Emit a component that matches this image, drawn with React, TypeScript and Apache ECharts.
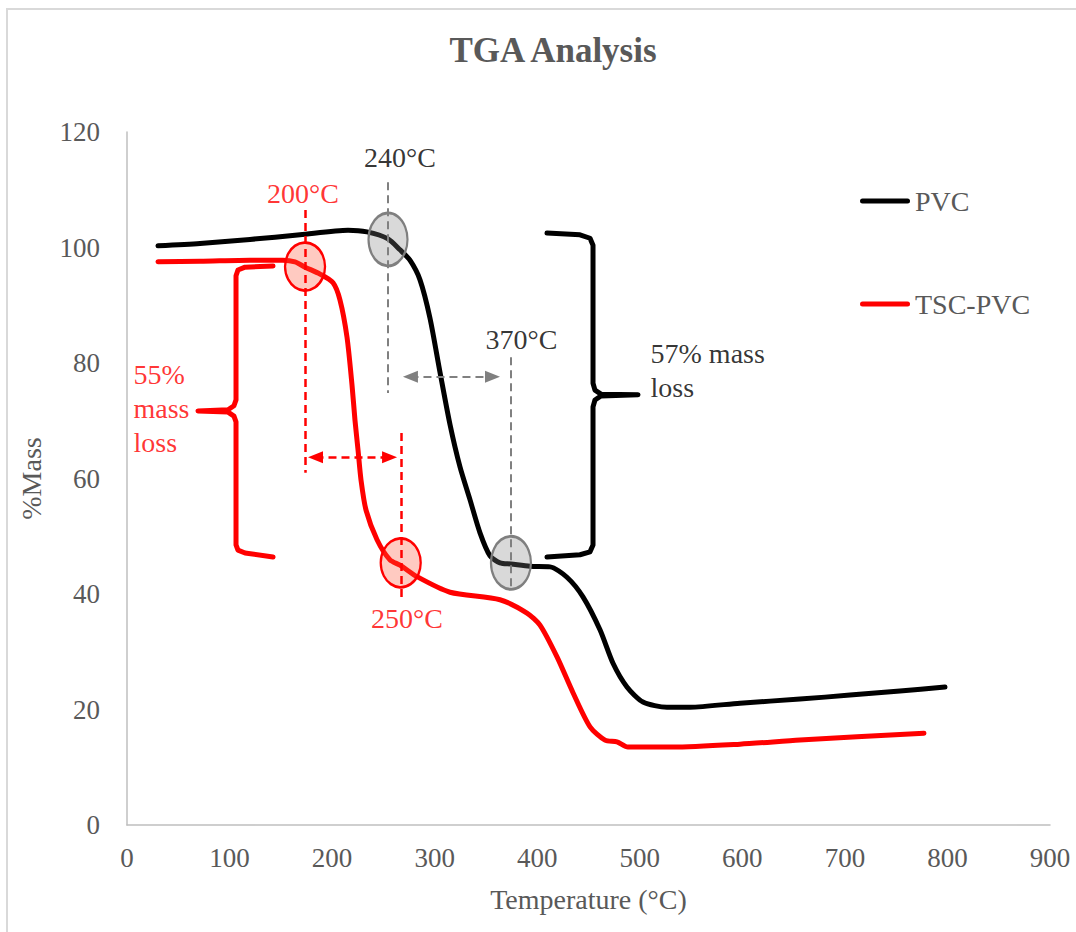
import React, { useEffect, useRef } from "react";
import * as echarts from "echarts";

// ---- Curve data (Temperature °C, %Mass) ----
const pvcTemp = [30.2, 71.2, 119.9, 168.7, 215.5, 234, 254.5, 266.2, 275.9, 285.7, 295.4, 305.2, 315, 324.7, 334.5, 344.2, 354, 363.7, 374.4, 393, 412.5, 429, 444.6, 461.2, 473.9, 487.5, 503.1, 526.5, 549, 597.7, 656.2, 705, 753.7, 797.6];
const pvcMass = [100.3, 100.7, 101.4, 102.2, 103.0, 102.7, 101.5, 99.6, 97.8, 94.4, 87.8, 78.4, 69.3, 62, 56.3, 50.6, 46.6, 45.4, 45.2, 44.8, 44.7, 42.9, 39.5, 33.8, 28, 23.9, 21.3, 20.4, 20.4, 21.1, 21.8, 22.5, 23.2, 23.9];

const tscTemp = [30.2, 71.2, 119.9, 152.1, 163.8, 173.6, 188.2, 200.9, 207.7, 214.5, 219.4, 222.3, 225.3, 228.2, 233.1, 243.8, 256.4, 266.2, 282.8, 315, 363.7, 390, 402.7, 419.3, 434.9, 451.5, 466.1, 477.8, 488.5, 532.4, 597.7, 656.2, 777.1];
const tscMass = [97.55, 97.6, 97.8, 97.8, 97.5, 96.6, 95.4, 93.9, 90.9, 84.5, 76.2, 70.1, 64.9, 59.7, 54.5, 49.4, 45.9, 45, 43, 40.3, 39, 36.7, 34.6, 29.1, 22.9, 17, 14.7, 14.4, 13.5, 13.5, 14, 14.7, 15.9];

const seriesNames = ["PVC", "TSC-PVC"];

// ---- Axis ticks ----
const xTicks = { min: 0, max: 900, step: 100 };
const yTicks = { min: 0, max: 120, step: 20 };

// ---- Annotations (in data units) ----
const tscBrace = [[142.4, 96.8], [115.1, 96.6], [108.2, 96.1], [106.3, 95.1], [106.3, 73.6], [104.3, 72.6], [98.5, 71.9], [69.2, 71.7], [98.5, 71.5], [104.3, 70.8], [106.3, 69.8], [106.3, 48.5], [108.2, 47.6], [115.1, 47.1], [142.4, 46.4]];
const pvcBrace = [[409.5, 102.5], [441.7, 102.2], [451.5, 101.6], [454.4, 100.4], [454.4, 76.5], [456.3, 75.3], [462.2, 74.6], [498.3, 74.5], [462.2, 74.3], [456.3, 73.6], [454.4, 72.4], [454.4, 48.5], [451.5, 47.3], [441.7, 46.8], [409.5, 46.4]];

const greyDashes = [[[254.5, 111.3], [254.5, 74.8]], [[374.4, 81.0], [374.4, 41.0]]];
const redDashes = [[[173.6, 106.5], [173.6, 61.0]], [[267.2, 67.9], [267.2, 38.6]]];
const greyArrow = [[276.4, 77.6], [356.4, 77.6]];
const redArrow = [[183.8, 63.7], [256.0, 63.7]];

const greyMarkers = [[254.5, 101.4], [374.4, 45.4]];
const redMarkers = [[173.6, 96.7], [266.9, 45.4]];

const pvcLabels = ["240°C", "370°C"];
const pvcLabelPos = [[266.2, 115.5], [384.7, 84.0]];
const tscLabels = ["200°C", "250°C"];
const tscLabelPos = [[171.6, 109.4], [273.0, 35.8]];
const tscLossText = "55%\nmass\nloss";
const tscLossPos = [5.85, 72.2];
const pvcLossText = "57% mass\nloss";
const pvcLossPos = [510, 78.7];

const FONT = "'Liberation Serif', 'Times New Roman', serif";
const LEGEND_ICON = "path://M2.5,0 L47.5,0 A2.5,2.5 0 0 1 47.5,5 L2.5,5 A2.5,2.5 0 0 1 2.5,0 Z";

export default function App() {
  const ref = useRef<HTMLDivElement>(null);
  useEffect(() => {
    document.body.style.margin = "0";
    const chart = echarts.init(ref.current!, null, { renderer: "svg" });
    const zip = (a: number[], b: number[]) => a.map((v, i) => [v, b[i]]);
    const seg = (p: number[][]) => [{ coord: p[0] }, { coord: p[1] }];

    const dashSeries = (name: string, segs: number[][][], color: string, width: number) => ({
      name,
      type: "line",
      data: [],
      silent: true,
      z: 4,
      markLine: {
        silent: true,
        symbol: "none",
        animation: false,
        label: { show: false },
        emphasis: { disabled: true },
        lineStyle: { color, width, type: [8, 5] },
        data: segs.map(seg),
      },
    });
    const arrowSeries = (name: string, s: number[][], color: string, width: number) => ({
      name,
      type: "line",
      data: [],
      silent: true,
      z: 4,
      markLine: {
        silent: true,
        symbol: ["triangle", "triangle"],
        symbolSize: [12, 15],
        animation: false,
        label: { show: false },
        emphasis: { disabled: true },
        lineStyle: { color, width, type: [8, 5] },
        itemStyle: { color },
        data: [seg(s)],
      },
    });
    const ellipseSeries = (name: string, pts: number[][], fill: string, border: string, size: number[][]) => ({
      name,
      type: "scatter",
      silent: true,
      z: 3,
      data: pts.map((p, i) => ({ value: p, symbolSize: size[i] })),
      symbol: "circle",
      itemStyle: { color: fill, borderColor: border, borderWidth: 2.5, opacity: 1 },
    });
    const textSeries = (name: string, items: any[]) => ({
      name,
      type: "scatter",
      silent: true,
      z: 5,
      symbolSize: 1,
      itemStyle: { color: "rgba(0,0,0,0)" },
      data: items,
    });
    const braceSeries = (name: string, pts: number[][], color: string) => ({
      name,
      type: "line",
      data: pts,
      symbol: "none",
      silent: true,
      z: 2,
      lineStyle: { color, width: 5, cap: "round", join: "round" },
    });

    const lbl = (text: string, pos: number[], color: string, left = false) => ({
      value: pos,
      label: {
        show: true,
        formatter: text,
        color,
        fontFamily: FONT,
        fontSize: 28,
        lineHeight: 34,
        position: left ? "right" : "inside",
        distance: 0,
        align: left ? "left" : "center",
      },
    });

    chart.setOption({
      animation: false,
      backgroundColor: "#ffffff",
      title: {
        text: "TGA Analysis",
        left: 548,
        top: 28,
        textAlign: "center",
        textStyle: { fontFamily: FONT, fontSize: 35, fontWeight: "bold", color: "#595959" },
      },
      legend: {
        data: seriesNames.map((n) => ({ name: n, icon: LEGEND_ICON })),
        orient: "vertical",
        left: 860,
        top: 187,
        padding: 0,
        itemWidth: 50,
        itemHeight: 5,
        itemGap: 75,
        selectedMode: false,
        textStyle: { fontFamily: FONT, fontSize: 28, color: "#595959", lineHeight: 28 },
      },
      graphic: [
        {
          type: "rect",
          shape: { x: 7, y: 9, width: 1200, height: 1100 },
          style: { fill: "none", stroke: "#d9d9d9", lineWidth: 2 },
          silent: true,
          z: -1,
        },
      ],
      grid: { left: 127, right: 26, top: 132, bottom: 107 },
      xAxis: {
        type: "value",
        min: xTicks.min,
        max: xTicks.max,
        interval: xTicks.step,
        name: "Temperature (°C)",
        nameLocation: "middle",
        nameGap: 60,
        nameTextStyle: { fontFamily: FONT, fontSize: 28, color: "#595959" },
        axisLine: { show: true, lineStyle: { color: "#bfbfbf", width: 1.5 } },
        axisTick: { show: false },
        splitLine: { show: false },
        axisLabel: { margin: 19, fontFamily: FONT, fontSize: 27, color: "#595959" },
      },
      yAxis: {
        type: "value",
        min: yTicks.min,
        max: yTicks.max,
        interval: yTicks.step,
        name: "%Mass",
        nameLocation: "middle",
        nameGap: 82,
        nameTextStyle: { fontFamily: FONT, fontSize: 28, color: "#595959" },
        axisLine: { show: true, lineStyle: { color: "#bfbfbf", width: 1.5 } },
        axisTick: { show: false },
        splitLine: { show: false },
        axisLabel: { margin: 27, fontFamily: FONT, fontSize: 27, color: "#595959" },
      },
      series: [
        {
          name: seriesNames[0],
          type: "line",
          data: zip(pvcTemp, pvcMass),
          symbol: "none",
          smooth: 0.25,
          z: 2,
          color: "#000000",
          lineStyle: { color: "#000000", width: 5, cap: "round", join: "round" },
        },
        {
          name: seriesNames[1],
          type: "line",
          data: zip(tscTemp, tscMass),
          symbol: "none",
          smooth: 0.25,
          z: 2,
          color: "#ff0000",
          lineStyle: { color: "#ff0000", width: 5, cap: "round", join: "round" },
        },
        braceSeries("brace-tsc", tscBrace, "#ff0000"),
        braceSeries("brace-pvc", pvcBrace, "#000000"),
        ellipseSeries("mark-grey", greyMarkers, "rgba(128,128,128,0.3)", "#7f7f7f", [[39, 53], [40, 53]]),
        ellipseSeries("mark-red", redMarkers, "rgba(255,80,50,0.3)", "#ff0000", [[40, 48], [40, 49]]),
        dashSeries("dash-grey", greyDashes, "#808080", 2),
        dashSeries("dash-red", redDashes, "#ff0000", 2.5),
        arrowSeries("arrow-grey", greyArrow, "#808080", 2),
        arrowSeries("arrow-red", redArrow, "#ff0000", 2.5),
        textSeries("labels", [
          ...pvcLabels.map((t, i) => lbl(t, pvcLabelPos[i], "#000000")),
          ...tscLabels.map((t, i) => lbl(t, tscLabelPos[i], "#ff0000")),
          lbl(tscLossText, tscLossPos, "#ff0000", true),
          lbl(pvcLossText, pvcLossPos, "#000000", true),
        ]),
      ],
    });
    return () => chart.dispose();
  }, []);
  return <div ref={ref} style={{ width: 1076, height: 932 }} />;
}
